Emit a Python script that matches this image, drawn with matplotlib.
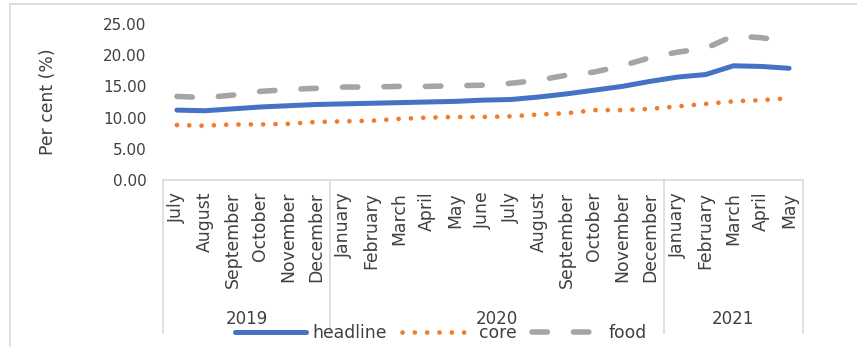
import matplotlib.pyplot as plt
import matplotlib.transforms as mtransforms
from matplotlib.lines import Line2D
from matplotlib.ticker import FormatStrFormatter

months = ['July', 'August', 'September', 'October', 'November', 'December',
          'January', 'February', 'March', 'April', 'May', 'June',
          'July', 'August', 'September', 'October', 'November', 'December',
          'January', 'February', 'March', 'April', 'May']
years = ['2019', '2020', '2021']
year_counts = [6, 12, 5]

headline = [11.2, 11.1, 11.4, 11.7, 11.9, 12.1, 12.2, 12.3, 12.4, 12.5, 12.6, 12.8,
            12.9, 13.3, 13.8, 14.4, 15.0, 15.8, 16.5, 16.9, 18.3, 18.2, 17.9]
core = [8.8, 8.7, 8.9, 8.9, 9.0, 9.3, 9.4, 9.5, 9.8, 10.0, 10.1, 10.1,
        10.2, 10.5, 10.7, 11.2, 11.2, 11.4, 11.8, 12.2, 12.6, 12.8, 13.1]
food = [13.4, 13.2, 13.6, 14.2, 14.5, 14.7, 14.9, 14.9, 15.0, 15.0, 15.1, 15.2,
        15.5, 16.0, 16.8, 17.3, 18.3, 19.6, 20.5, 21.1, 23.1, 22.8, 22.2]

plt.rcParams['font.family'] = ['DejaVu Sans']
text_col = '#404040'
line_col = '#D9D9D9'

fig = plt.figure(figsize=(8.57, 3.47), dpi=100)
ax = fig.add_axes([163 / 857, 167 / 347, 640 / 857, 156 / 347])

x = list(range(len(months)))
ax.plot(x, headline, color='#4472C4', lw=3.6, solid_capstyle='round',
        solid_joinstyle='round', label='headline')
ax.plot(x, core, color='#ED7D31', lw=3.4, linestyle=(0, (0.01, 2.6)),
        dash_capstyle='round', label='core')
ax.plot(x, food, color='#A5A5A5', lw=4.0, linestyle=(0, (2.77, 4.7)),
        dash_capstyle='round', label='food')

ax.set_xlim(-0.5, len(months) - 0.5)
ax.set_ylim(0, 25)
ax.set_yticks([0, 5, 10, 15, 20, 25])
ax.yaxis.set_major_formatter(FormatStrFormatter('%.2f'))
ax.tick_params(axis='y', length=0, pad=12, labelsize=11, labelcolor=text_col)
ax.set_xticks(x)
ax.set_xticklabels(months, rotation=90)
ax.tick_params(axis='x', length=0, pad=8.5, labelsize=12.4, labelcolor=text_col)

for s in ['left', 'right', 'top']:
    ax.spines[s].set_visible(False)
ax.spines['bottom'].set_color(line_col)
ax.spines['bottom'].set_linewidth(1.2)

ax.set_ylabel('Per cent (%)', fontsize=12.4, color=text_col)
ax.yaxis.set_label_coords(-0.165, 0.5)

# year level of the category axis
trans = mtransforms.blended_transform_factory(ax.transData, ax.transAxes)
start = -0.5
bounds = [start]
for yr, n in zip(years, year_counts):
    ax.text(start + n / 2, -0.891, yr, transform=trans, ha='center', va='center',
            fontsize=12, color=text_col)
    start += n
    bounds.append(start)
for b in bounds:
    ax.plot([b, b], [0, -0.981], transform=trans, color=line_col, lw=1.2,
            clip_on=False)

fig.legend(loc='center', bbox_to_anchor=(0.515, 0.040), ncol=3, frameon=False,
           fontsize=12.4, handlelength=4.1, handletextpad=0.4, columnspacing=0.85,
           labelcolor=text_col)

# chart area border
fig.add_artist(Line2D([10 / 857, 1], [1 - 4 / 347, 1 - 4 / 347], color=line_col, lw=1.2))
fig.add_artist(Line2D([10 / 857, 10 / 857], [0, 1 - 4 / 347], color=line_col, lw=1.2))

fig.savefig('out.png', dpi=100)
